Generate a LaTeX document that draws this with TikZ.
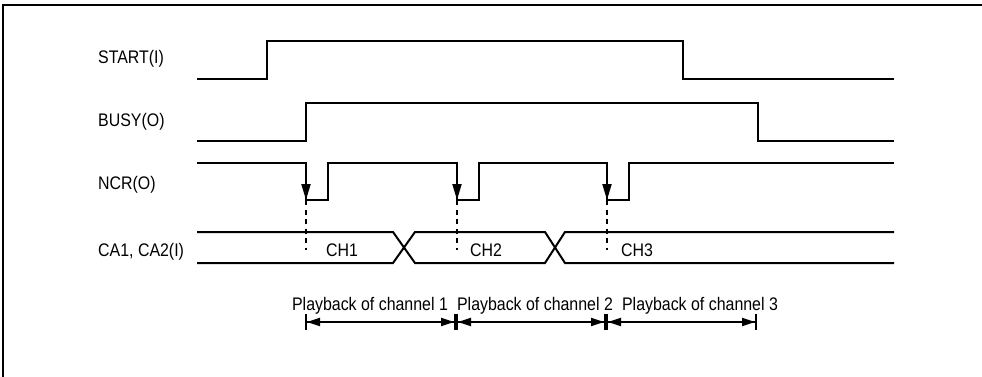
\documentclass[tikz,border=0pt]{standalone}
\usepackage{fontspec}
\setmainfont{Liberation Sans}[FakeStretch=0.875]
\usepackage{tikz}
\usetikzlibrary{arrows.meta}

\begin{document}
\begin{tikzpicture}[x=1pt,y=-1pt,font=\fontsize{18.2pt}{20pt}\selectfont,
  sig/.style={line width=2pt,line join=miter},
  edge/.style={sig,-{Triangle[length=16pt,width=9pt]}},
  guide/.style={line width=1.6pt,dash pattern=on 5pt off 4.5pt},
  span/.style={line width=1.8pt,{Bar[width=16pt,line width=2pt]Triangle[length=13pt,width=8pt]}-{Triangle[length=13pt,width=8pt]Bar[width=16pt,line width=2pt]}},
  lbl/.style={anchor=base west,inner sep=0pt}
]
\useasboundingbox (0,0) rectangle (982,377);
% ---- cadre ----
\draw[line width=1.5pt] (3,377) -- (3,5) -- (982,5);
% ---- noms des signaux ----
\node[lbl] (start) at (98,64) {START(I)};
\node[lbl] (busy)  at (98,127) {BUSY(O)};
\node[lbl] (ncr)   at (98,189) {NCR(O)};
\node[lbl] (ca)    at (98,256) {CA1, CA2(I)};
% ---- chronogrammes ----
\draw[sig] (197,79) -- (267,79) -- (267,41) -- (683,41) -- (683,79) -- (894,79);
\draw[sig] (197,141) -- (306,141) -- (306,103) -- (758,103) -- (758,141) -- (894,141);
\draw[sig] (197,163) -| (306,200) -| (328,163) -| (457,200) -| (479,163) -| (607,200) -| (629,163) -- (894,163);
\draw[sig] (197,232) -- (393,232) -- (415,263) -- (545,263) -- (565,232) -- (894,232);
\draw[sig] (197,263) -- (393,263) -- (415,232) -- (545,232) -- (565,263) -- (894,263);
\foreach \x/\n in {306/1,457/2,607/3}{
  \coordinate (hi\n) at (\x,163);
  \coordinate (lo\n) at (\x,200);
  \coordinate (bus\n) at (\x,250);
  \draw[edge] (hi\n) -- (lo\n);
  \draw[guide] (lo\n) -- (bus\n);
}
\foreach \x/\n in {342/1,486/2,637/3}
  \node[anchor=base,inner sep=0pt] (ch\n) at (\x,256) {CH\n};
% ---- lecture des canaux ----
\foreach \x/\n in {305/0,456/1,606/2,757/3}
  \coordinate (p\n) at (\x,322);
\foreach \a/\b/\n/\t in {0/1/1/370,1/2/2/535,2/3/3/700}{
  \draw[span] (p\a) -- (p\b);
  \node[anchor=base,inner sep=0pt] (play\n) at (\t,310) {Playback of channel \n};
}
\end{tikzpicture}
\end{document}
